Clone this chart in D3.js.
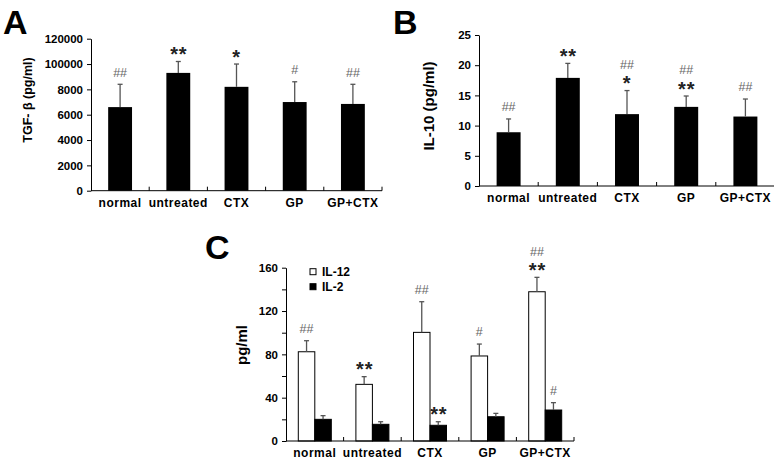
<!DOCTYPE html>
<html>
<head>
<meta charset="utf-8">
<script src="https://cdn.jsdelivr.net/npm/d3@7"></script>
<style>
  body { margin: 0; background: #fff; }
  svg { display: block; font-family: "Liberation Sans", Arial, sans-serif; }
</style>
</head>
<body>
<div class="board"></div>
<script>
// data
var groups = ['normal', 'untreated', 'CTX', 'GP', 'GP+CTX'];

var tgfMean = [66000, 93000, 82000, 70000, 68500];
var tgfErr = [18000, 9000, 18000, 16000, 15500];
var tgfTicks = [0, 20000, 40000, 60000, 80000, 100000, 120000];
var tgfTickLabels = ['0', '2000', '4000', '6000', '8000', '100000', '120000'];
var tgfMarks = [['##'], ['**'], ['*'], ['#'], ['##']];

var il10Mean = [8.9, 17.9, 11.9, 13.1, 11.5];
var il10Err = [2.2, 2.4, 3.9, 1.8, 2.9];
var il10Ticks = [0, 5, 10, 15, 20, 25];
var il10Marks = [['##'], ['**'], ['##', '*'], ['##', '**'], ['##']];

var series = ['IL-12', 'IL-2'];
var il12Mean = [82.4, 52.3, 100.3, 78.5, 137.8];
var il12Err = [10.2, 7.1, 28.3, 11, 13.3];
var il2Mean = [20, 15.4, 14.5, 22.4, 28.6];
var il2Err = [3.4, 2.4, 3.3, 3.1, 6.8];
var il12Marks = [['##'], ['**'], ['##'], ['#'], ['##', '**']];
var il2Marks = [[], [], ['**'], [], ['#']];
var cTicks = [0, 20, 40, 60, 80, 100, 120, 140, 160];

var width = 774;
var height = 464;
var svg = d3.select('.board')
            .append('svg')
            .attr('width', width)
            .attr('height', height);

var errColor = '#555';

// significance marks, stacked upward from the top of the error bar
var drawMarks = function(g, cx, yTop, marks) {
  var y = yTop - 12;
  marks.slice().reverse().forEach(function(m) {
    var star = m.indexOf('*') >= 0;
    g.append('text')
     .attr('x', cx + (star && m.length > 1 ? 0.5 : 0))
     .attr('y', star ? y + 11.5 : y + 4.3)
     .attr('text-anchor', 'middle')
     .style('font-size', star ? '20px' : '12.5px')
     .style('font-weight', star ? 'bold' : 'normal')
     .style('letter-spacing', star ? '0.8px' : '0px')
     .style('fill', star ? '#222' : '#666')
     .text(m);
    y -= 14;
  });
};

var drawErr = function(g, cx, y0, y1) {
  g.append('line')
   .attr('x1', cx).attr('x2', cx)
   .attr('y1', y0).attr('y2', y1)
   .style('stroke', errColor).style('stroke-width', 1.3);
  g.append('line')
   .attr('x1', cx - 2.5).attr('x2', cx + 2.5)
   .attr('y1', y1).attr('y2', y1)
   .style('stroke', errColor).style('stroke-width', 1.3);
};

var drawXAxis = function(g, x, y0) {
  var r = x.range();
  g.append('line')
   .attr('x1', r[0]).attr('x2', r[1])
   .attr('y1', y0).attr('y2', y0)
   .style('stroke', '#000');
  groups.forEach(function(d, i) {
    var bx = r[0] + x.step() * (i + 1);
    g.append('line')
     .attr('x1', bx).attr('x2', bx)
     .attr('y1', y0).attr('y2', y0 - 4)
     .style('stroke', '#000');
  });
  g.selectAll('.xlab')
   .data(groups)
   .enter()
   .append('text')
   .attr('class', 'xlab')
   .attr('x', function(d) { return x(d) + x.bandwidth() / 2; })
   .attr('y', y0 + 16)
   .attr('text-anchor', 'middle')
   .style('font-size', '12px')
   .style('font-weight', 'bold')
   .style('letter-spacing', '0.5px')
   .text(function(d) { return d; });
};

var drawYAxis = function(g, y, x0, ticks, fmt) {
  g.append('g')
   .attr('transform', 'translate(' + x0 + ',0)')
   .call(d3.axisLeft(y).tickValues(ticks).tickSize(4).tickSizeOuter(0).tickPadding(4).tickFormat(fmt))
   .call(function(a) {
     a.selectAll('text').style('font-size', '11.5px').style('font-weight', 'bold')
      .style('font-family', '"Liberation Sans", Arial, sans-serif').style('fill', '#000');
     a.selectAll('line').style('stroke', '#000');
     a.select('.domain').style('stroke', '#000');
   });
};

var singlePanel = function(opt) {
  var g = svg.append('g');
  var x = d3.scaleBand().domain(groups).range(opt.xRange)
            .paddingInner(opt.pad).paddingOuter(opt.pad / 2);
  var y = d3.scaleLinear().domain(opt.domain).range(opt.yRange);

  drawYAxis(g, y, opt.xRange[0], opt.ticks, opt.fmt);

  g.selectAll('.bar')
   .data(groups)
   .enter()
   .append('rect')
   .attr('class', 'bar')
   .attr('x', function(d) { return x(d); })
   .attr('width', x.bandwidth())
   .attr('y', function(d, i) { return y(opt.mean[i]); })
   .attr('height', function(d, i) { return y(0) - y(opt.mean[i]); })
   .style('fill', '#000');

  groups.forEach(function(d, i) {
    var cx = x(d) + x.bandwidth() / 2;
    var top = y(opt.mean[i] + opt.err[i]);
    drawErr(g, cx, y(opt.mean[i]), top);
    drawMarks(g, cx, top, opt.marks[i]);
  });

  drawXAxis(g, x, y(0));

  g.append('text')
   .attr('transform', 'translate(' + opt.titlePos[0] + ',' + opt.titlePos[1] + ') rotate(-90)')
   .attr('text-anchor', 'middle')
   .attr('dy', '0.35em')
   .style('font-size', opt.titleSize)
   .style('font-weight', 'bold')
   .text(opt.title);

  g.append('text')
   .attr('x', opt.letterPos[0]).attr('y', opt.letterPos[1])
   .style('font-size', '34px').style('font-weight', 'bold')
   .text(opt.letter);
};

// panel A
singlePanel({
  xRange: [91, 382], yRange: [190.7, 38.7], domain: [0, 120000], pad: 0.59,
  ticks: tgfTicks,
  fmt: function(d, i) { return tgfTickLabels[i]; },
  mean: tgfMean, err: tgfErr, marks: tgfMarks,
  title: 'TGF- β (pg/ml)', titlePos: [28, 100], titleSize: '12.5px',
  letter: 'A', letterPos: [3, 34]
});

// panel B
singlePanel({
  xRange: [479, 775], yRange: [186, 35], domain: [0, 25], pad: 0.595,
  ticks: il10Ticks,
  fmt: function(d) { return d; },
  mean: il10Mean, err: il10Err, marks: il10Marks,
  title: 'IL-10 (pg/ml)', titlePos: [429, 106], titleSize: '15px',
  letter: 'B', letterPos: [393, 34]
});

// panel C, grouped bars
var gc = svg.append('g');
var x0 = d3.scaleBand().domain(groups).range([286, 574]).paddingInner(0.427).paddingOuter(0.2135);
var x1 = d3.scaleBand().domain(series).range([0, x0.bandwidth()]);
var yc = d3.scaleLinear().domain([0, 160]).range([441, 267.7]);

drawYAxis(gc, yc, 286, cTicks, function(d) { return d % 40 === 0 ? d : ''; });

var cMean = [il12Mean, il2Mean];
var cErr = [il12Err, il2Err];
var cMarks = [il12Marks, il2Marks];

series.forEach(function(s, si) {
  gc.selectAll('.bar' + si)
    .data(groups)
    .enter()
    .append('rect')
    .attr('x', function(d) { return x0(d) + x1(s); })
    .attr('width', x1.bandwidth())
    .attr('y', function(d, i) { return yc(cMean[si][i]); })
    .attr('height', function(d, i) { return yc(0) - yc(cMean[si][i]); })
    .style('fill', si === 0 ? '#fff' : '#000')
    .style('stroke', '#000')
    .style('stroke-width', 1);
  groups.forEach(function(d, i) {
    var cx = x0(d) + x1(s) + x1.bandwidth() / 2;
    var top = yc(cMean[si][i] + cErr[si][i]);
    drawErr(gc, cx, yc(cMean[si][i]), top);
    drawMarks(gc, cx, top, cMarks[si][i]);
  });
});

drawXAxis(gc, x0, yc(0));

// legend
series.forEach(function(s, si) {
  var ly = 271.7 + si * 15;
  gc.append('rect')
    .attr('x', 310).attr('y', ly - 3).attr('width', 6).attr('height', 6)
    .style('fill', si === 0 ? '#fff' : '#000')
    .style('stroke', '#000');
  gc.append('text')
    .attr('x', 322).attr('y', ly).attr('dy', '0.35em')
    .style('font-size', '12px').style('font-weight', 'bold')
    .text(s);
});

gc.append('text')
  .attr('transform', 'translate(242,345) rotate(-90)')
  .attr('text-anchor', 'middle')
  .attr('dy', '0.35em')
  .style('font-size', '15px')
  .style('font-weight', 'bold')
  .text('pg/ml');

gc.append('text')
  .attr('x', 205).attr('y', 259)
  .style('font-size', '34px').style('font-weight', 'bold')
  .text('C');
</script>
</body>
</html>
